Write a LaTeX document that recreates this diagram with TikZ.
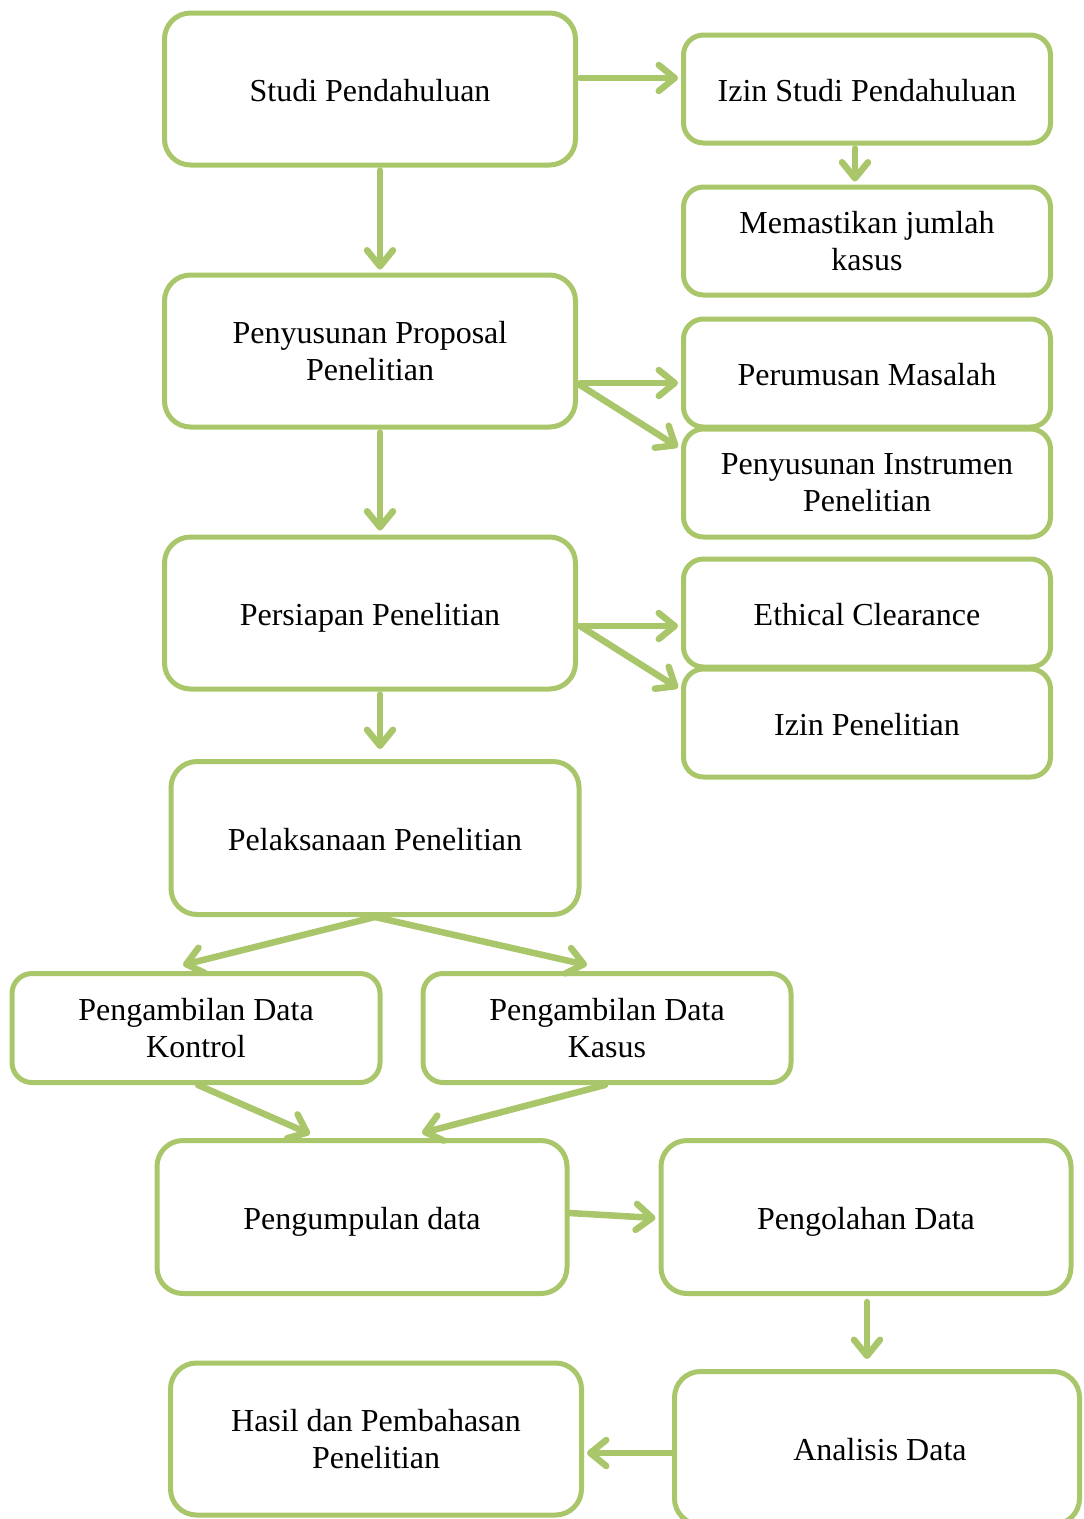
\documentclass[tikz,border=0pt]{standalone}
\usepackage{fontspec}
\setmainfont{Liberation Serif}
\usetikzlibrary{arrows.meta,calc}
\definecolor{lgreen}{RGB}{169,199,106}
\begin{document}
\begin{tikzpicture}[x=1pt,y=-1pt,
  box/.style={draw=lgreen,line width=5pt,rounded corners=26pt,align=center,
    font=\fontsize{32}{37}\selectfont,inner sep=0pt,
    minimum width=411pt,minimum height=152pt},
  one/.style={text height=27pt,text depth=3pt},
  sbox/.style={box,rounded corners=20pt,minimum width=367pt,minimum height=108pt},
  arr/.style={draw=lgreen,line width=6.5pt,line cap=round,
    -{Straight Barb[length=16pt,width=26pt,line cap=round,line join=round]}}]
\useasboundingbox (0,0) rectangle (1084,1519);
\clip (0,0) rectangle (1084,1519);
\node[box,one] (b1) at (370,89) {Studi Pendahuluan};
\node[sbox,one] (b2) at (867,89) {Izin Studi Pendahuluan};
\node[sbox] (b3) at (867,241) {Memastikan jumlah\\kasus};
\node[box] (b4) at (370,351) {Penyusunan Proposal\\Penelitian};
\node[sbox,one] (b5) at (867,373) {Perumusan Masalah};
\node[sbox] (b6) at (867,483) {Penyusunan Instrumen\\Penelitian};
\node[box,one] (b7) at (370,613) {Persiapan Penelitian};
\node[sbox,one] (b8) at (867,613) {Ethical Clearance};
\node[sbox,one] (b9) at (867,723) {Izin Penelitian};
\node[box,one,minimum width=408pt,minimum height=153pt] (b10) at (375,838) {Pelaksanaan Penelitian};
\node[sbox,minimum width=368pt,minimum height=109pt] (b11) at (196,1028) {Pengambilan Data\\Kontrol};
\node[sbox,minimum width=368pt,minimum height=109pt] (b12) at (607,1028) {Pengambilan Data\\Kasus};
\node[box,one,minimum width=410pt,minimum height=153pt] (b13) at (362,1217) {Pengumpulan data};
\node[box,one,minimum width=410pt,minimum height=153pt] (b14) at (866,1217) {Pengolahan Data};
\node[box,minimum width=411pt,minimum height=152pt] (b15) at (376,1439) {Hasil dan Pembahasan\\Penelitian};
\node[box,one,minimum width=405pt,minimum height=153pt] (b16) at (877,1448) {\kern6pt Analisis Data};
\draw[arr] ($(b1.east)+(2,-11)$) -- ($(b2.west)+(-3,-11)$);
\draw[arr] ($(b2.south)+(-12,3)$) -- ($(b3.north)+(-12,-3)$);
\draw[arr] ($(b1.south)+(10,3)$) -- ($(b4.north)+(10,-3)$);
\draw[arr] ($(b4.east)+(2,32)$) -- ($(b5.west)+(-3,10)$);
\draw[arr] ($(b4.east)+(2,34)$) -- ($(b6.west)+(-3,-36)$);
\draw[arr] ($(b4.south)+(10,3)$) -- ($(b7.north)+(10,-4)$);
\draw[arr] ($(b7.east)+(2,13)$) -- ($(b8.west)+(-3,13)$);
\draw[arr] ($(b7.east)+(2,13)$) -- ($(b9.west)+(-3,-35)$);
\draw[arr] ($(b7.south)+(10,3)$) -- ($(b10.north)+(5,-10)$);
\draw[arr] (b10.south) -- ($(b11.north)+(-13,-6)$);
\draw[arr] (b10.south) -- ($(b12.north)+(-20,-6)$);
\draw[arr] ($(b11.south)+(2,0)$) -- ($(b13.north)+(-52,-4)$);
\draw[arr] ($(b12.south)+(-2,0)$) -- ($(b13.north)+(60,-5)$);
\draw[arr] ($(b13.east)+(0,-4)$) -- ($(b14.west)+(-3,1)$);
\draw[arr] ($(b14.south)+(1,6)$) -- ($(b16.north)+(-10,-10)$);
\draw[arr] ($(b16.west)+(0,5)$) -- ($(b15.east)+(3,14)$);
\end{tikzpicture}
\end{document}
